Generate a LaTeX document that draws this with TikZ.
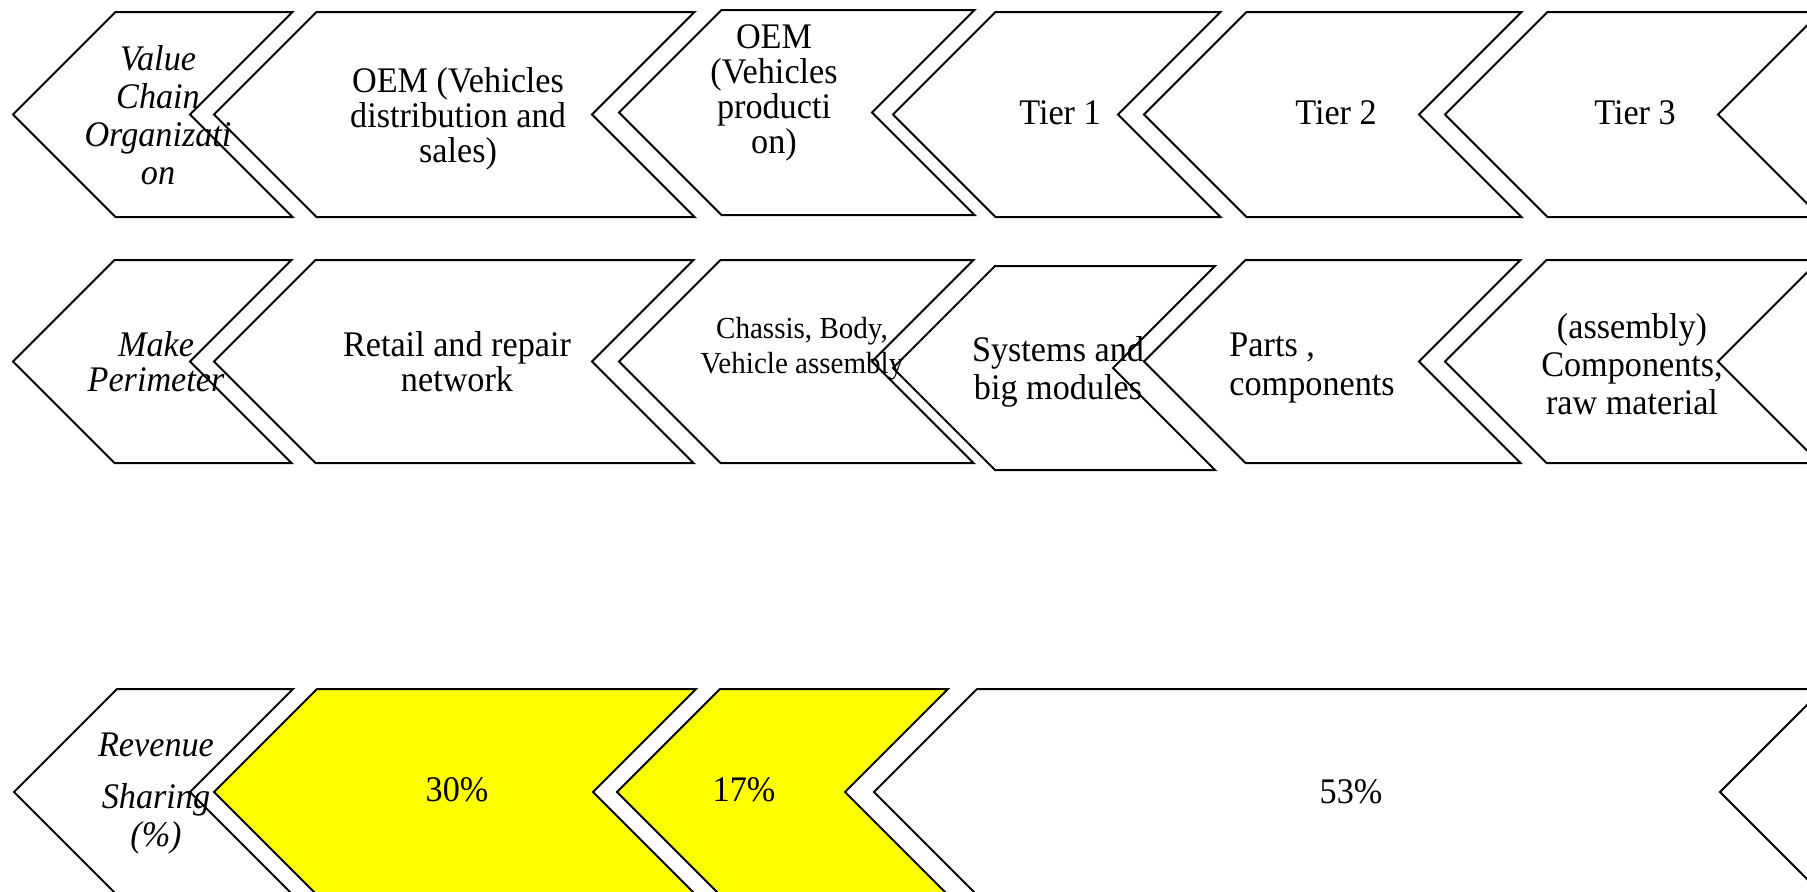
\documentclass[tikz,border=0pt]{standalone}
\usepackage{fontspec}
\setmainfont{Liberation Serif}[FakeStretch=0.95]
\definecolor{chevyellow}{RGB}{255,255,0}
\newcommand{\chevshape}[5][]{%
  \pgfmathsetmacro{\chvH}{(#5-#4)/2}%
  \pgfmathsetmacro{\chvM}{(#5+#4)/2}%
  \path[chevline,#1] (#2,\chvM) -- ({#2+\chvH},#4) -- ({#3+\chvH},#4) -- (#3,\chvM) -- ({#3+\chvH},#5) -- ({#2+\chvH},#5) -- cycle;}
\tikzset{
  chevline/.style={draw=black, line width=1pt, line join=miter, fill=white},
  yel/.style={fill=chevyellow},
  lbl/.style={font=\fontsize{18}{17.5}\selectfont, align=center, inner sep=0pt},
  ital/.style={font=\fontsize{18}{17.5}\selectfont\itshape},
  italw/.style={font=\fontsize{18}{19}\selectfont\itshape},
  italb/.style={font=\fontsize{18}{19}\selectfont\itshape},
  smalltxt/.style={font=\fontsize{15.3}{17.5}\selectfont},
  widetxt/.style={font=\fontsize{18}{19}\selectfont},
  widertxt/.style={font=\fontsize{18}{19.5}\selectfont}
}
\begin{document}
\begin{tikzpicture}[x=0.5pt,y=-0.5pt]
\useasboundingbox (0,0) rectangle (1807,891);
\clip (0,0) rectangle (1807,891);
% row 1
\chevshape{13}{190}{12}{217}
\chevshape{214}{592}{12}{217}
\chevshape{619}{872}{10}{215}
\chevshape{893}{1118}{12}{217}
\chevshape{1144}{1419}{12}{217}
\chevshape{1445}{1718}{12}{217}
% row 2
\chevshape{13}{190}{260}{463}
\chevshape{214}{592}{260}{463}
\chevshape{619}{872}{260}{463}
\chevshape{893}{1113}{266}{470}
\chevshape{1144}{1419}{260}{463}
\chevshape{1445}{1718}{260}{463}
% row 3
\chevshape{14}{190}{689}{895}
\chevshape[yel]{214}{593}{689}{895}
\chevshape[yel]{617}{845}{689}{895}
\chevshape{874}{1720}{689}{895}
% texts row 1
\node[lbl,italw] (vco) at (158,115) {Value\\Chain\\Organizati\\on};
\node[lbl] (oemd) at (458,119) {OEM (Vehicles\\distribution and\\sales)};
\node[lbl] (oemp) at (774,93) {OEM\\(Vehicles\\producti\\on)};
\node[lbl] (tier1) at (1060,113) {Tier 1};
\node[lbl] (tier2) at (1336,113) {Tier 2};
\node[lbl] (tier3) at (1635,113) {Tier 3};
% texts row 2
\node[lbl,ital] (mkp) at (156,362) {Make\\Perimeter};
\node[lbl] (rrn) at (457,362) {Retail and repair\\network};
\node[lbl,smalltxt] (cbv) at (802,349) {Chassis, Body,\\Vehicle assembly};
\node[lbl,widetxt] (sbm) at (1058,372) {Systems and\\big modules};
\node[lbl,widertxt,align=left,anchor=west] (pcs) at (1229,368) {Parts ,\\components};
\node[lbl,widetxt] (acr) at (1632,364) {(assembly)\\Components,\\raw material};
% texts row 3
\node[lbl,italb] (rvs) at (156,794) {Revenue\\[7pt]Sharing\\(\%)};
\node[lbl] (p30) at (457,790) {30\%};
\node[lbl] (p17) at (744,790) {17\%};
\node[lbl] (p53) at (1351,792) {53\%};
\end{tikzpicture}
\end{document}
